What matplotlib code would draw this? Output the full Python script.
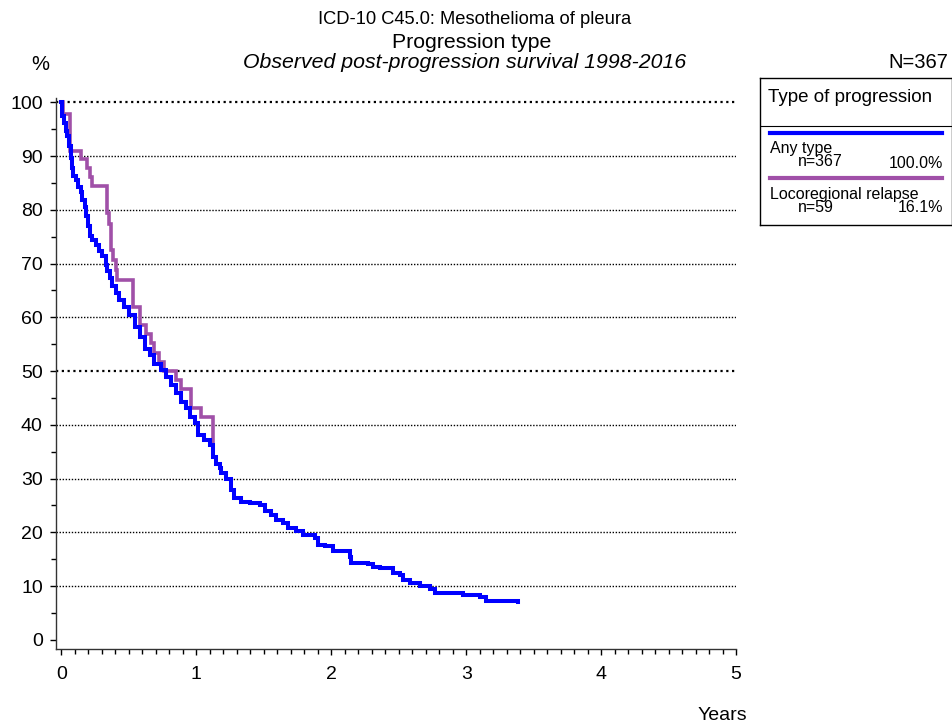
import matplotlib
matplotlib.use("Agg")
import matplotlib.pyplot as plt
from matplotlib.lines import Line2D
from matplotlib.ticker import MultipleLocator

plt.rcParams["font.family"] = ["Liberation Sans", "DejaVu Sans"]

# --- данные: годы после прогрессии и наблюдаемая выживаемость, % ---
any_t = [0.0, 0.007, 0.02, 0.032, 0.045, 0.057, 0.069, 0.076, 0.089, 0.106,
         0.124, 0.143, 0.156, 0.173, 0.185, 0.2, 0.213, 0.23, 0.254, 0.28,
         0.304, 0.329, 0.341, 0.361, 0.378, 0.403, 0.428, 0.467, 0.504, 0.542,
         0.579, 0.616, 0.653, 0.69, 0.74, 0.776, 0.813, 0.851, 0.888, 0.925,
         0.95, 0.987, 1.011, 1.06, 1.098, 1.122, 1.147, 1.172, 1.185, 1.222,
         1.259, 1.283, 1.333, 1.395, 1.469, 1.506, 1.556, 1.593, 1.642, 1.679,
         1.741, 1.79, 1.877, 1.902, 1.951, 2.013, 2.137, 2.149, 2.273, 2.31,
         2.359, 2.458, 2.507, 2.532, 2.582, 2.656, 2.73, 2.767, 2.977, 3.1,
         3.15, 3.385]
any_s = [100.0, 97.4, 96.2, 94.6, 93.7, 91.8, 89.6, 87.7, 86.2, 85.5,
         84.3, 83.3, 81.8, 80.5, 78.9, 77.0, 75.2, 74.3, 73.5, 72.3,
         71.4, 69.8, 68.6, 67.3, 65.8, 64.5, 63.3, 62.0, 60.4, 58.2,
         56.4, 54.2, 53.0, 51.4, 50.2, 48.9, 47.4, 45.9, 44.3, 43.1,
         41.5, 40.3, 38.1, 37.2, 36.2, 34.1, 32.8, 31.9, 31.0, 30.0,
         27.9, 26.3, 25.7, 25.4, 25.1, 23.9, 23.2, 22.3, 21.8, 20.8,
         20.3, 19.5, 19.0, 17.7, 17.5, 16.5, 15.5, 14.3, 14.1, 13.6,
         13.3, 12.5, 12.1, 11.2, 10.5, 10.0, 9.4, 8.7, 8.4, 7.9,
         7.3, 7.1]

loco_t = [0.0, 0.011, 0.064, 0.148, 0.188, 0.21, 0.23, 0.336, 0.353, 0.365,
          0.385, 0.403, 0.415, 0.527, 0.584, 0.628, 0.665, 0.69, 0.727, 0.764,
          0.851, 0.888, 0.962, 1.036, 1.12]
loco_s = [100.0, 97.9, 91.0, 89.4, 87.8, 86.1, 84.5, 79.4, 77.3, 72.5,
          70.7, 68.8, 67.0, 62.0, 58.6, 56.9, 55.2, 53.4, 51.7, 50.0,
          48.3, 46.6, 43.1, 41.4, 35.3]

groups = ["Any type", "Locoregional relapse"]
group_n = [367, 59]
group_pct = [100.0, 16.1]
colors = ["#0000ff", "#a050a8"]

fig = plt.figure(figsize=(9.53, 7.28), dpi=100)
ax = fig.add_axes([56 / 953, 1 - 649 / 728, 680 / 953, 551 / 728])

ax.plot(any_t, any_s, drawstyle="steps-post", color=colors[0], lw=2.9,
        solid_joinstyle="miter", zorder=3)
ax.plot(loco_t, loco_s, drawstyle="steps-post", color=colors[1], lw=2.6,
        solid_joinstyle="miter", zorder=2)

# сетка точками, 50 и 100 — жирнее
for yv in range(10, 101, 10):
    bold = yv in (50, 100)
    ax.axhline(yv, color="black", lw=1.6 if bold else 1.0,
               ls=(0, (1, 1.6)) if bold else (0, (1, 1.2)), zorder=1)

ax.set_xlim(-0.04, 5.0)
ax.set_ylim(-1.7, 100.8)
ax.xaxis.set_major_locator(MultipleLocator(1))
ax.xaxis.set_minor_locator(MultipleLocator(0.1))
ax.yaxis.set_major_locator(MultipleLocator(10))
ax.yaxis.set_minor_locator(MultipleLocator(5))
ax.tick_params(which="major", length=4.5, width=1, labelsize=14, pad=5)
ax.tick_params(which="minor", length=3.5, width=1)
ax.tick_params(axis="x", pad=8)
for side in ("top", "right"):
    ax.spines[side].set_visible(False)
for side in ("left", "bottom"):
    ax.spines[side].set_linewidth(1.0)
    ax.spines[side].set_color("#333333")

# заголовки
fig.text(475 / 953, 1 - 20 / 728, "ICD-10 C45.0: Mesothelioma of pleura",
         ha="center", va="center", fontsize=13.2)
fig.text(472 / 953, 1 - 42 / 728, "Progression type", ha="center", va="center",
         fontsize=15.3)
fig.text(465 / 953, 1 - 62 / 728, "Observed post-progression survival 1998-2016",
         ha="center", va="center", fontsize=15.3, style="italic")
fig.text(40 / 953, 1 - 64 / 728, "%", ha="center", va="center", fontsize=14.5)
fig.text(948 / 953, 1 - 62 / 728, "N=367", ha="right", va="center", fontsize=14.5)
fig.text(722 / 953, 1 - 716 / 728, "Years", ha="center", va="center", fontsize=14)

# легенда в рамке
lg = fig.add_axes([760 / 953, 1 - 225 / 728, 192 / 953, 147 / 728])
lg.set_xlim(0, 192)
lg.set_ylim(147, 0)
lg.set_xticks([])
lg.set_yticks([])
for sp in lg.spines.values():
    sp.set_linewidth(1.0)
lg.text(8, 20, "Type of progression", fontsize=13.5, va="center")
lg.add_line(Line2D([0, 192], [48, 48], color="black", lw=0.8))
for i, (name, n, pct, col) in enumerate(zip(groups, group_n, group_pct, colors)):
    y0 = 55 + i * 45
    lg.add_line(Line2D([10, 182], [y0, y0], color=col, lw=3))
    lg.text(10, y0 + 16, name, fontsize=11.5, va="center")
    lg.text(38, y0 + 29, f"n={n}", fontsize=11.5, va="center", ha="left")
    lg.text(183, y0 + 30, f"{pct:.1f}%", fontsize=11.5, va="center", ha="right")

fig.savefig("out.png", dpi=100)
